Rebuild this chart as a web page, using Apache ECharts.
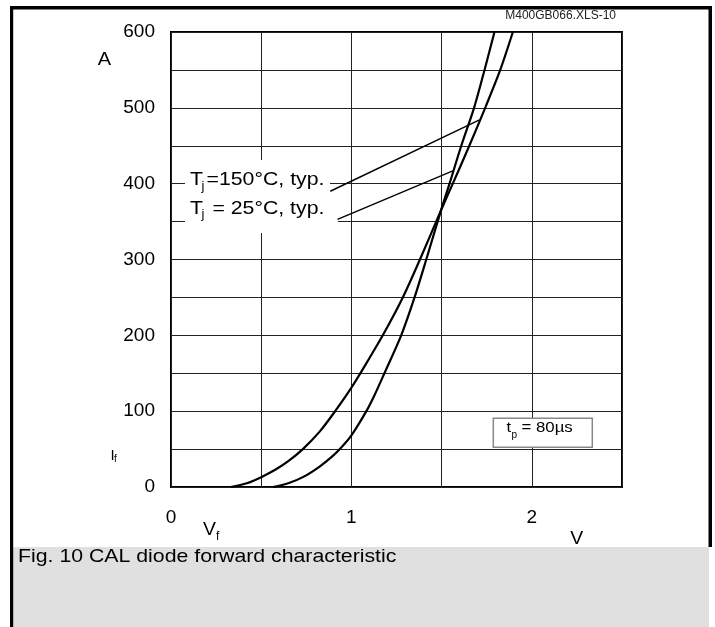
<!DOCTYPE html>
<html><head><meta charset="utf-8">
<script src="https://cdn.jsdelivr.net/npm/echarts@6/dist/echarts.min.js"></script>
<style>html,body{margin:0;padding:0;background:#fff}#c{width:715px;height:627px}</style>
</head><body><div id="c"></div>
<script>
// Tj = 150 °C, typ.
const v150 = [0.33,0.42,0.50,0.58,0.65,0.731,0.824,0.91,1.0,1.09,1.174,1.285,1.38,1.497,1.562,1.65,1.745,1.825,1.895];
const a150 = [0,5,13,23,34,50,73,100,131,166,200,250,300,365,400,448,502,550,600];
// Tj = 25 °C, typ.
const v25 = [0.565,0.65,0.731,0.824,0.897,0.944,1.0,1.083,1.128,1.183,1.276,1.35,1.415,1.497,1.544,1.609,1.68,1.738,1.793];
const a25 = [0,5,13,27,41,52,68,100,121,150,200,250,300,365,400,450,500,550,600];
// annotation leader lines (V, A)
const leader150 = [[0.883,390],[1.71,484]];
const leader25 = [[0.923,353],[1.562,417]];
// tick labels shown
const xTickLabels = [0,1,2];
const yTickLabels = [0,100,200,300,400,500,600];

const FF = '"Liberation Sans", Arial, Helvetica, sans-serif';
function zip(xs, ys){ return xs.map((x,i)=>[x, ys[i]]); }
function txt(x, y, s, size, o){
  o = o || {};
  const al = o.align || 'left';
  return {type:'text', x:x, y:y, scaleX:(o.sx==null?1.12:o.sx), z:10, silent:true,
    style:{text:s, fontSize:size, fontFamily:FF, fill:o.fill||'#000',
      align:al, verticalAlign:'middle', textAlign:al, textVerticalAlign:'middle'}};
}
function rect(x,y,w,h,fill,o){
  o = o || {};
  return {type:'rect', shape:{x:x,y:y,width:w,height:h}, z:(o.z==null?1:o.z), silent:true,
    style:{fill:fill, stroke:o.stroke||null, lineWidth:o.lw||0}};
}

const chart = echarts.init(document.getElementById('c'), null, {renderer:'canvas'});
const lineSeries = (name, data, w) => ({
  name:name, type:'line', data:data, symbol:'none', smooth:0.3, silent:true, z:3,
  lineStyle:{color:'#000', width:w}
});

chart.setOption({
  animation:false,
  backgroundColor:'#fff',
  grid:{left:171, top:32, width:451, height:455, show:true, borderColor:'#000', borderWidth:2, backgroundColor:'transparent'},
  xAxis:{type:'value', min:0, max:2.5, interval:0.5,
    axisLine:{show:false}, axisTick:{show:false},
    splitLine:{show:true, lineStyle:{color:'#222', width:1}},
    axisLabel:{margin:21, fontSize:19, fontFamily:FF, color:'#000',
      formatter:v => xTickLabels.some(t=>Math.abs(t-v)<1e-9) ? String(v) : ''}},
  yAxis:{type:'value', min:0, max:600, interval:50,
    axisLine:{show:false}, axisTick:{show:false},
    splitLine:{show:true, lineStyle:{color:'#222', width:1}},
    axisLabel:{margin:16, fontSize:19, fontFamily:FF, color:'#000',
      formatter:v => yTickLabels.indexOf(v)>=0 ? String(v) : ''}},
  series:[
    lineSeries('Tj=150°C', zip(v150,a150), 2.2),
    lineSeries('Tj=25°C', zip(v25,a25), 2.2),
    {type:'line', data:leader150, symbol:'none', silent:true, z:3, lineStyle:{color:'#000', width:1.4}},
    {type:'line', data:leader25, symbol:'none', silent:true, z:3, lineStyle:{color:'#000', width:1.4}}
  ],
  graphic:[
    // outer frame
    rect(10,6,702,3.5,'#000',{z:5}),
    rect(10,6,3.2,621,'#000',{z:5}),
    rect(708.5,6,3.5,541,'#000',{z:5}),
    rect(13,547,696,80,'#e0e0e0',{z:4}),
    // label backgrounds
    rect(185,160,145,36,'#fff'),
    rect(185,196,153,37,'#fff'),
    // tp box
    rect(493.3,418.3,99,29,'#fff',{stroke:'#888', lw:1.5}),
    txt(616,16,'M400GB066.XLS-10',12,{align:'right', sx:1, fill:'#222'}),
    txt(104.5,59.5,'A',18.5,{align:'center', sx:1.08}),
    txt(110.5,456.3,'I',15,{sx:1}),
    txt(114,459.5,'f',10,{sx:1}),
    txt(203,530.3,'V',18.5,{sx:1.05}),
    txt(216,537,'f',12,{sx:1}),
    txt(576.7,539,'V',18.5,{align:'center', sx:1.05}),
    txt(190,180,'T',19),
    txt(201.5,186.5,'j',13,{sx:1}),
    txt(206.5,180,'=150°C, typ.',19),
    txt(190,208.3,'T',19),
    txt(201.5,214.8,'j',13,{sx:1}),
    txt(206.5,208.3,' = 25°C, typ.',19),
    txt(506.5,428,'t',15,{sx:1.1}),
    txt(511.5,435.5,'p',10,{sx:1}),
    txt(521.5,428,'= 80µs',15),
    txt(18,556.7,'Fig. 10 CAL diode forward characteristic',18.5,{sx:1.15})
  ]
});
</script></body></html>
